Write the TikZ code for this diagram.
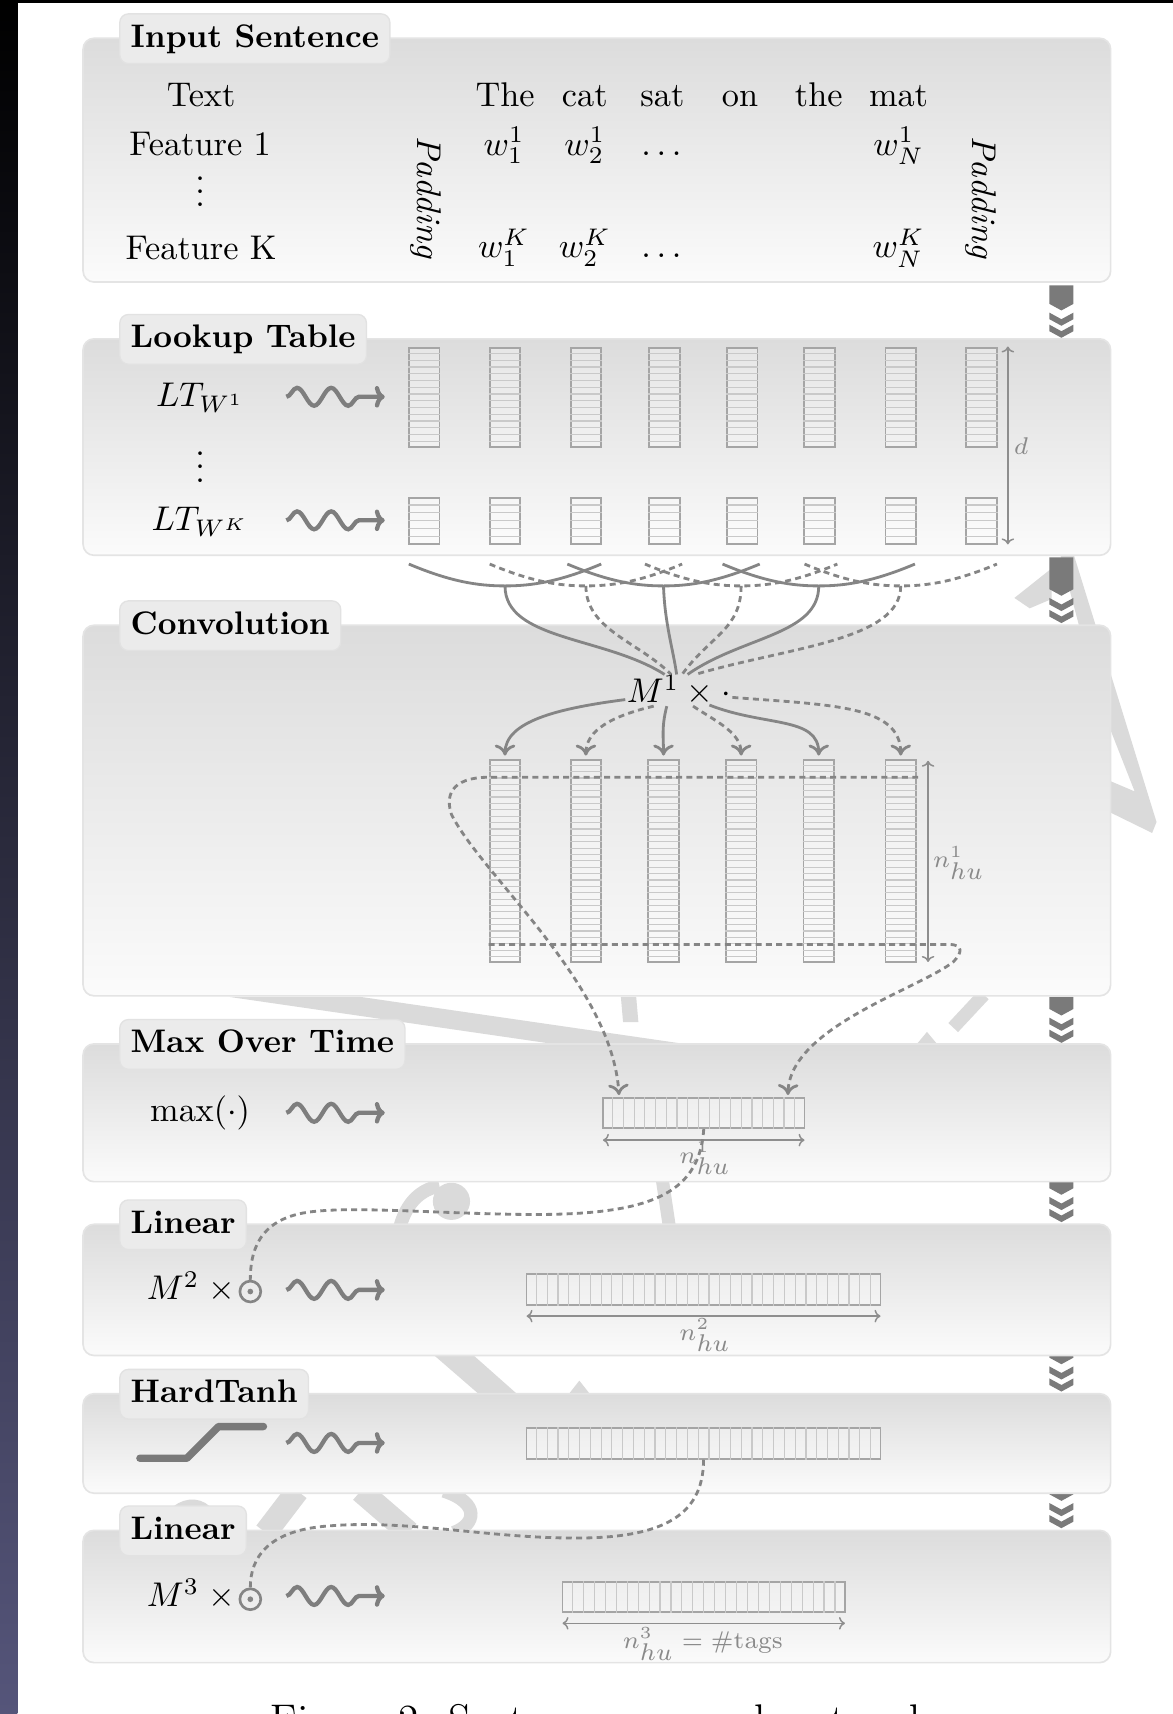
\RequirePackage{fix-cm}
\documentclass[tikz,border=0pt]{standalone}
\usetikzlibrary{arrows.meta,decorations.pathmorphing,calc}
\definecolor{panelTop}{HTML}{DCDCDC}
\definecolor{panelBot}{HTML}{FBFBFB}
\definecolor{panelBorder}{HTML}{E4E4E4}
\definecolor{tabfill}{HTML}{EBEBEB}
\definecolor{tabborder}{HTML}{E2E2E2}
\definecolor{boxgray}{HTML}{A5A5A5}
\definecolor{cellgray}{HTML}{C9C9C9}
\definecolor{conngray}{HTML}{858585}
\definecolor{snakegray}{HTML}{7E7E7E}
\definecolor{chevgray}{HTML}{7A7A7A}
\definecolor{dimgray}{HTML}{8E8E8E}
\definecolor{labelgray}{HTML}{8A8A8A}
\definecolor{wmgray}{HTML}{DADADA}
\definecolor{stripTop}{HTML}{000000}
\definecolor{stripBot}{HTML}{55557A}

\newcommand\vcells[2]{%
  \pgfmathtruncatemacro\ncm{#2-1}%
  \foreach \k in {1,...,\ncm}{%
    \draw[cellline] ($(#1.north west)!\k/#2!(#1.south west)$) -- ($(#1.north east)!\k/#2!(#1.south east)$);}}
\newcommand\hcells[2]{%
  \pgfmathtruncatemacro\ncm{#2-1}%
  \foreach \k in {1,...,\ncm}{%
    \draw[cellline] ($(#1.north west)!\k/#2!(#1.north east)$) -- ($(#1.south west)!\k/#2!(#1.south east)$);}}
\newcommand\chevs[2]{%
  \fill[chevgray] (960,#1) -- (982,#1) -- (982,#2-31) -- (971,#2-25) -- (960,#2-31) -- cycle;
  \fill[chevgray] (960,#2-23) -- (971,#2-17) -- (982,#2-23) -- (982,#2-17) -- (971,#2-11) -- (960,#2-17) -- cycle;
  \fill[chevgray] (960,#2-12) -- (971,#2-6) -- (982,#2-12) -- (982,#2-6) -- (971,#2) -- (960,#2-6) -- cycle;}
\newcommand\panel[4]{%
  \draw[panelbox] (76,#1) rectangle (1016,#2);
  \node[tabbox] (#4) at (109,#1+8) {#3};}

\begin{document}
\begin{tikzpicture}[x=0.33pt,y=-0.33pt,
  txt/.style={font=\fontsize{10.35}{12.4}\selectfont, inner sep=0pt, anchor=base},
  tabbox/.style={fill=tabfill, draw=tabborder, line width=0.4pt, rounded corners=2.6pt,
     inner xsep=3.3pt, inner ysep=2.8pt, text height=7.2pt, text depth=2.2pt,
     font=\bfseries\fontsize{9.85}{12}\selectfont, anchor=base west},
  panelbox/.style={rounded corners=3.3pt, top color=panelTop, bottom color=panelBot, draw=panelBorder, line width=0.5pt},
  cellbox/.style={draw=boxgray, line width=0.55pt, fill=white, fill opacity=0.3, inner sep=0pt, minimum width=9.24pt},
  cellline/.style={draw=cellgray, line width=0.35pt},
  conn/.style={draw=conngray, line width=0.85pt},
  dconn/.style={conn, dash pattern=on 1.8pt off 1.3pt},
  arr/.style={-{To[length=3.3pt,width=6.2pt]}},
  dimarr/.style={draw=dimgray, line width=0.45pt, {To[length=1.8pt,width=3.8pt]}-{To[length=1.8pt,width=3.8pt]}},
  lbl/.style={font=\fontsize{7.3}{9}\selectfont, text=labelgray, inner sep=0pt},
  snakearr/.style={draw=snakegray, line width=1.3pt, decorate,
     decoration={snake, amplitude=2.7pt, segment length=10.3pt, post length=7pt}, -{To[length=3pt,width=6.5pt]}},
  odot/.style={circle, draw=conngray, line width=0.8pt, minimum size=6.3pt, inner sep=0pt},
  wmband/.style={fill=wmgray, draw=none}
]
\useasboundingbox (0,0) rectangle (1073,1568);
\fill[white] (0,0) rectangle (1073,1568);
\shade[top color=stripTop, bottom color=stripBot] (0,0) rectangle (16,1568);
\fill[black] (0,0) rectangle (1073,2.4);

% faint background logo pieces
\fill[wmband] (928,547) -- (962,520) -- (962,548) -- (942,556.5) -- cycle;
\fill[wmband] (968,500) -- (980,500) -- (1058,752) -- (1054,762) -- (1005,738) -- (1005,710) -- (1038,724) -- (1005,640) -- cycle;
\fill[wmband] (210,912) -- (330,912) -- (640,957) -- (520,957) -- cycle;
\fill[wmband] (568,912) -- (582,912) -- (584,935) -- (570,935) -- cycle;
\draw[wmgray, line width=4pt] (872,940) -- (900,910);
\fill[wmband] (838,956) -- (848,944) -- (858,956) -- cycle;
\fill[wmgray] (413,1099) circle[radius=17];
\draw[wmgray, line width=4pt] (366,1122) .. controls (372,1100) and (385,1088) .. (402,1085);
\fill[wmband] (600,1080) -- (612,1080) -- (618,1120) -- (606,1120) -- cycle;
\fill[wmband] (395,1238) -- (431,1238) -- (475,1277) -- (440,1277) -- cycle;
\fill[wmband] (519,1277) -- (530,1263) -- (541,1277) -- cycle;
\draw[wmgray, line width=4pt] (152,1402) .. controls (155,1375) and (192,1365) .. (196,1402);
\draw[wmgray, line width=7pt] (243,1402) -- (272,1364);
\draw[wmgray, line width=7pt] (330,1364) -- (374,1402);
\draw[wmgray, line width=4pt] (406,1364) .. controls (440,1375) and (435,1395) .. (415,1402);

% chevrons on the right
\chevs{261}{309}
\chevs{510}{570}
\chevs{912}{954}
\chevs{1079}{1118}
\chevs{1238}{1273}
\chevs{1364}{1398}

% panels
\panel{35}{258}{Input Sentence}{tIn}
\panel{310}{508}{Lookup Table}{tLT}
\panel{572}{911}{Convolution}{tConv}
\panel{955}{1081}{Max Over Time}{tMax}
\panel{1120}{1240}{Linear}{tLin}
\panel{1275}{1366}{HardTanh}{tHT}
\panel{1400}{1521}{Linear}{tLinB}

% ---------- Input sentence
\node[txt] (lText) at (184,97) {Text};
\node[txt] (lF1) at (183,142) {Feature 1};
\node[txt] (lVd) at (183,189) {$\vdots$};
\node[txt] (lFK) at (184,237) {Feature K};
\node[txt, anchor=center, rotate=-90] (padL) at (390,181) {\textit{Padding}};
\node[txt, anchor=center, rotate=-90] (padR) at (897,181) {\textit{Padding}};
\foreach \x/\w [count=\i] in {462/The,535/cat,606/sat,677/on,749/the,822/mat}
  \node[txt] (word\i) at (\x,97) {\w};
\node[txt] (wa1) at (461,142) {$w_1^1$};
\node[txt] (wa2) at (535,142) {$w_2^1$};
\node[txt] (wad) at (605,142) {$\ldots$};
\node[txt] (waN) at (822,142) {$w_N^1$};
\node[txt] (wb1) at (461,236) {$w_1^K$};
\node[txt] (wb2) at (535,236) {$w_2^K$};
\node[txt] (wbd) at (605,236) {$\ldots$};
\node[txt] (wbN) at (822,236) {$w_N^K$};

% ---------- Lookup table
\node[txt] (lt1) at (183,372) {$LT_{W^1}$};
\node[txt] (ltvd) at (183,441) {$\vdots$};
\node[txt] (ltK) at (183,485) {$LT_{W^K}$};
\draw[snakearr] (262,363) -- (352,363);
\draw[snakearr] (262,476) -- (352,476);
\foreach \x [count=\i] in {388,462,536,608,679,749.5,824,898}{
  \node[cellbox, minimum height=30.03pt] (ta\i) at (\x,363.5) {};
  \vcells{ta\i}{15}
  \node[cellbox, minimum height=13.86pt] (tb\i) at (\x,476.5) {};
  \vcells{tb\i}{6}
}
\draw[dimarr] (922,317) -- (922,498);
\node[lbl] (dlab) at (934,408) {$d$};

% ---------- Convolution
\foreach \x/\sty [count=\i from 2] in {462/conn,536/dconn,607/conn,678/dconn,749/conn,824/dconn}{
  \coordinate (sL\i) at (\x-88,516);
  \coordinate (g\i) at (\x,536);
  \coordinate (sR\i) at (\x+88,516);
  \draw[\sty] (sL\i) .. controls +(38,16) and +(-25,0) .. (g\i) .. controls +(25,0) and +(-38,16) .. (sR\i);
}
\node[txt] (m1) at (621,643) {$M^1\times\cdot$};
\coordinate (i2) at (608,617);
\coordinate (i3) at (614,617);
\coordinate (i4) at (619,617);
\coordinate (i5) at (624,617);
\coordinate (i6) at (629,617);
\coordinate (i7) at (636,617);
\draw[conn] (g2) .. controls +(0,50) and +(-55,-35) .. (i2);
\draw[dconn] (g3) .. controls +(0,40) and +(-30,-30) .. (i3);
\draw[conn] (g4) .. controls +(1,34) and +(-3,-22) .. (i4);
\draw[dconn] (g5) .. controls +(0,40) and +(25,-35) .. (i5);
\draw[conn] (g6) .. controls +(0,45) and +(50,-35) .. (i6);
\draw[dconn] (g7) .. controls +(0,50) and +(85,-25) .. (i7);

\foreach \x [count=\i from 2] in {462,536,607,678,749,824}{
  \node[cellbox, minimum height=61.05pt] (cv\i) at (\x,787.5) {};
  \vcells{cv\i}{32}
  \coordinate (e\i) at ($(cv\i.north)+(0,-3)$);
}
\coordinate (o2) at (572,640);
\coordinate (o3) at (598,646);
\coordinate (o4) at (610,646);
\coordinate (o5) at (634,646);
\coordinate (o6) at (649,645);
\coordinate (o7) at (670,638);
\draw[conn,arr] (o2) .. controls (510,648) and (462,660) .. (e2);
\draw[dconn,arr] (o3) .. controls (560,655) and (536,668) .. (e3);
\draw[conn,arr] (o4) .. controls (605,665) and (607,675) .. (e4);
\draw[dconn,arr] (o5) .. controls (655,660) and (678,670) .. (e5);
\draw[conn,arr] (o6) .. controls (700,665) and (749,655) .. (e6);
\draw[dconn,arr] (o7) .. controls (760,645) and (824,645) .. (e7);
\draw[dimarr] (849,696) -- (849,880);
\node[lbl, anchor=base west] (nlab1) at (853,794) {$n^{\scriptstyle 1}_{\textstyle hu}$};

% ---------- Max over time
\node[txt] (maxop) at (183,1026) {$\max(\cdot)$};
\draw[snakearr] (262,1018) -- (352,1018);
\node[cellbox, minimum width=60.85pt, minimum height=9.04pt] (mx) at (643.8,1018.3) {};
\hcells{mx}{19}
\draw[dimarr] (551.6,1043) -- (736,1043);
\node[lbl, anchor=base west] (nlab2) at (621,1064) {$n^{\scriptstyle 1}_{\textstyle hu}$};

\coordinate (hlTopR) at (840,711);
\coordinate (hlTopL) at (448,711);
\coordinate (hlBotL) at (447,864);
\coordinate (hlBotR) at (868,864);
\coordinate (mxL) at ($(mx.north west)+(15.5,-2)$);
\coordinate (mxR) at ($(mx.north east)+(-16,-2)$);
\draw[dconn,arr] (hlTopR) -- (hlTopL) .. controls (410,711) and (408,730) .. (413,745)
   .. controls (440,800) and (560,900) .. (mxL);
\draw[dconn,arr] (hlBotL) -- (hlBotR) .. controls (882,864) and (880,872) .. (872,880)
   .. controls (840,905) and (722,940) .. (mxR);

% ---------- Linear
\node[txt, anchor=base east] (m2) at (216,1189) {$M^2\;\times$};
\node[odot] (od2) at (229,1181.5) {};
\fill[conngray] (od2.center) circle[radius=2.6];
\draw[snakearr] (262,1180) -- (352,1180);
\node[cellbox, minimum width=106.85pt, minimum height=9.34pt] (l2) at (643.6,1179.5) {};
\hcells{l2}{33}
\draw[dimarr] (481.7,1204) -- (805.5,1204);
\node[lbl, anchor=base west] (nlab3) at (621,1226) {$n^{\scriptstyle 2}_{\textstyle hu}$};
\draw[dconn] (mx.south) .. controls +(-4,62) and +(110,1) .. (480,1111)
   .. controls (400,1110) and (330,1104) .. (290,1108) .. controls (240,1112) and (229,1140) .. (od2.north);

% ---------- HardTanh
\draw[line width=2.25pt, draw=chevgray, line cap=round, line join=round]
   (128,1334) -- (171,1334) -- (200,1305) -- (241,1305);
\draw[snakearr] (262,1320) -- (352,1320);
\node[cellbox, minimum width=106.85pt, minimum height=9.27pt] (ht) at (643.6,1320.5) {};
\hcells{ht}{33}

% ---------- Linear (output)
\node[txt, anchor=base east] (m3) at (216,1470) {$M^3\;\times$};
\node[odot] (od3) at (229,1463) {};
\fill[conngray] (od3.center) circle[radius=2.6];
\draw[snakearr] (262,1460) -- (352,1460);
\node[cellbox, minimum width=85.27pt, minimum height=9.24pt] (l3) at (643.8,1461) {};
\hcells{l3}{26}
\draw[dimarr] (514.6,1485) -- (773,1485);
\node[lbl, anchor=base] (nlab4) at (643,1508) {$n^{\scriptstyle 3}_{\textstyle hu}=\#\mathrm{tags}$};
\draw[dconn] (ht.south) .. controls +(0,55) and +(80,1) .. (520,1407)
   .. controls (440,1406) and (370,1390) .. (300,1396) .. controls (245,1400) and (229,1425) .. (od3.north);

% ---------- caption (cut by the page edge)
\begin{scope}
\clip (0,0) rectangle (1073,1568);
\node[font=\fontsize{12.5}{14}\selectfont, anchor=base west, inner sep=0pt] (cap) at (247,1586) {Figure 2: Sentence approach network};
\end{scope}
\end{tikzpicture}
\end{document}
